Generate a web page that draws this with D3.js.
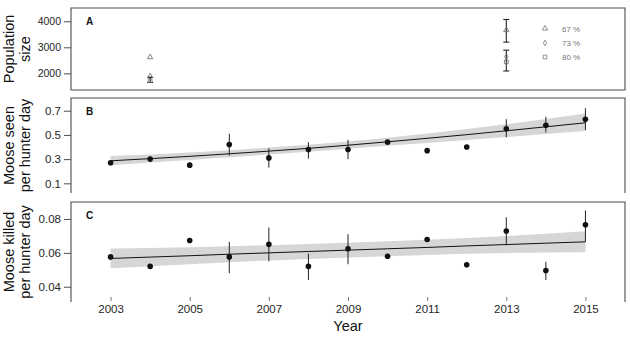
<!DOCTYPE html>
<html>
<head>
<meta charset="utf-8">
<script src="https://cdn.jsdelivr.net/npm/d3@7"></script>
<style>
  body { margin: 0; background: #fff; }
  svg { display: block; font-family: "Liberation Sans", Arial, sans-serif; }
</style>
</head>
<body>
<div id="chart"></div>
<script>
// Moose figure: A population estimates, B seen per hunter day, C killed per hunter day

const years = [2003, 2004, 2005, 2006, 2007, 2008, 2009, 2010, 2011, 2012, 2013, 2014, 2015];
const xTicks = [2003, 2005, 2007, 2009, 2011, 2013, 2015];

// ---- Panel A: population size -------------------------------------
const popYears = [2004, 2013];
const popLegend = ["67 %", "73 %", "80 %"];
const popTri = [2620, 3660];
const popTriLo = [null, 3200];
const popTriHi = [null, 4070];
const popDia = [1900, 2640];
const popDiaLo = [null, 2090];
const popDiaHi = [null, 2890];
const popSq = [1720, 2440];
const popSqLo = [1650, null];
const popSqHi = [1850, null];
const popTicks = [2000, 3000, 4000];

// ---- Panel B: moose seen per hunter day ---------------------------
const seen = [0.27, 0.30, 0.25, 0.42, 0.31, 0.38, 0.38, 0.44, 0.37, 0.40, 0.55, 0.58, 0.63];
const seenLo = [null, null, null, 0.33, 0.23, 0.305, 0.30, null, null, null, 0.48, 0.52, 0.54];
const seenHi = [null, null, null, 0.51, 0.39, 0.44, 0.46, null, null, null, 0.63, 0.65, 0.72];
const seenFit = [0.286, 0.304, 0.323, 0.344, 0.366, 0.389, 0.415, 0.443, 0.472, 0.502, 0.534, 0.567, 0.600];
const seenFitLo = [0.250, 0.271, 0.292, 0.315, 0.338, 0.361, 0.385, 0.410, 0.434, 0.458, 0.482, 0.507, 0.532];
const seenFitHi = [0.325, 0.338, 0.355, 0.374, 0.395, 0.418, 0.446, 0.477, 0.511, 0.548, 0.588, 0.631, 0.676];
const seenTicks = [0.1, 0.3, 0.5, 0.7];

// ---- Panel C: moose killed per hunter day -------------------------
const killed = [0.0576, 0.052, 0.0673, 0.0576, 0.065, 0.052, 0.0624, 0.058, 0.0679, 0.053, 0.0729, 0.0496, 0.0766];
const killedLo = [null, null, null, 0.048, 0.055, 0.044, 0.0533, null, null, null, 0.0645, 0.044, 0.0665];
const killedHi = [null, null, null, 0.0665, 0.075, 0.0596, 0.071, null, null, null, 0.081, 0.0547, 0.085];
const killedFit = [0.0567, 0.0575, 0.0583, 0.0592, 0.0600, 0.0608, 0.0616, 0.0624, 0.0632, 0.0641, 0.0649, 0.0657, 0.0665];
const killedFitLo = [0.0509, 0.0521, 0.0533, 0.0545, 0.0555, 0.0564, 0.0572, 0.0580, 0.0587, 0.0594, 0.0599, 0.0602, 0.0603];
const killedFitHi = [0.0625, 0.0629, 0.0633, 0.0639, 0.0645, 0.0652, 0.0660, 0.0668, 0.0677, 0.0688, 0.0699, 0.0712, 0.0727];
const killedTicks = [0.04, 0.06, 0.08];

const W = 630, H = 337;
const left = 71, right = 625;
const frameColor = "#4d4d4d";

const svg = d3.select("#chart").append("svg")
  .attr("width", W).attr("height", H);

const x = d3.scaleLinear().domain([2002, 2016]).range([left, right]);

// panel layout: top, bottom, y-domain
const panels = [
  { key: "A", top: 8, bottom: 90, domain: [1360, 4510], ticks: popTicks, fmt: d3.format("d"), label: ["Population", "size"], tickFont: 10.5 },
  { key: "B", top: 98, bottom: 193, domain: [0.02, 0.805], ticks: seenTicks, fmt: d3.format(".1f"), label: ["Moose seen", "per hunter day"], tickFont: 11.5 },
  { key: "C", top: 202, bottom: 302, domain: [0.031, 0.090], ticks: killedTicks, fmt: d3.format(".2f"), label: ["Moose killed", "per hunter day"], tickFont: 11.5 }
];

panels.forEach(p => {
  p.y = d3.scaleLinear().domain(p.domain).range([p.bottom, p.top]);
  p.g = svg.append("g");
});

// --------------------------------------------------------------
// frames, y axes, labels
// --------------------------------------------------------------
panels.forEach(p => {
  const axis = p.g.append("g")
    .attr("transform", `translate(${left},0)`)
    .call(d3.axisLeft(p.y).tickValues(p.ticks).tickFormat(p.fmt).tickSize(7).tickPadding(3));
  axis.select(".domain").remove();
  axis.selectAll("line").attr("stroke", frameColor);
  axis.selectAll("text")
    .attr("fill", "#262626")
    .style("font-size", p.tickFont + "px")
    .style("font-family", "'Liberation Sans', Arial, sans-serif");

  const midY = (p.top + p.bottom) / 2;
  const lab = p.g.append("text")
    .attr("transform", `translate(16,${midY}) rotate(-90)`)
    .attr("text-anchor", "middle")
    .attr("fill", "#111")
    .style("font-size", "14.5px");
  lab.append("tspan").attr("x", 0).attr("dy", "-0.15em").text(p.label[0]);
  lab.append("tspan").attr("x", 0).attr("dy", "1.15em").text(p.label[1]);

  p.g.append("text")
    .attr("x", 86).attr("y", p.top + 17)
    .attr("font-weight", "bold")
    .style("font-size", "10px")
    .attr("fill", "#111")
    .text(p.key);
});

// --------------------------------------------------------------
// Panel A: population estimates with caps
// --------------------------------------------------------------
const pA = panels[0];
const popGroups = [
  { vals: popTri, lo: popTriLo, hi: popTriHi, sym: d3.symbolTriangle, size: 12 },
  { vals: popDia, lo: popDiaLo, hi: popDiaHi, sym: d3.symbolDiamond, size: 9 },
  { vals: popSq, lo: popSqLo, hi: popSqHi, sym: d3.symbolSquare, size: 14 }
];

popGroups.forEach(s => {
  popYears.forEach((yr, i) => {
    if (s.lo[i] == null) return;
    const cx = x(yr);
    pA.g.append("line")
      .attr("x1", cx).attr("x2", cx)
      .attr("y1", pA.y(s.lo[i])).attr("y2", pA.y(s.hi[i]))
      .attr("stroke", "#111").attr("stroke-width", 1);
    [s.lo[i], s.hi[i]].forEach(v => {
      pA.g.append("line")
        .attr("x1", cx - 3).attr("x2", cx + 3)
        .attr("y1", pA.y(v)).attr("y2", pA.y(v))
        .attr("stroke", "#111").attr("stroke-width", 1);
    });
  });
  pA.g.selectAll(null)
    .data(popYears.map((yr, i) => [yr, s.vals[i]]))
    .join("path")
    .attr("transform", d => `translate(${x(d[0])},${pA.y(d[1])})`)
    .attr("d", d3.symbol(s.sym, s.size))
    .attr("fill", "none")
    .attr("stroke", "#666")
    .attr("stroke-width", 0.8);
});

// legend
const legY = [28.5, 43, 57];
popGroups.forEach((s, i) => {
  pA.g.append("path")
    .attr("transform", `translate(545,${legY[i]})`)
    .attr("d", d3.symbol(s.sym, s.size))
    .attr("fill", "none")
    .attr("stroke", "#777")
    .attr("stroke-width", 0.8);
  pA.g.append("text")
    .attr("x", 562).attr("y", legY[i] + 3)
    .attr("fill", "#777")
    .style("font-size", "8px")
    .text(popLegend[i]);
});

// --------------------------------------------------------------
// Panels B & C: ribbon, fit line, points, error bars
// --------------------------------------------------------------
function drawTrend(p, vals, lo, hi, fit, fitLo, fitHi) {
  const area = d3.area()
    .x((d, i) => x(years[i]))
    .y0((d, i) => p.y(fitLo[i]))
    .y1((d, i) => p.y(fitHi[i]));
  p.g.append("path")
    .datum(years)
    .attr("d", area)
    .attr("fill", "#d6d6d6");

  const line = d3.line()
    .x((d, i) => x(years[i]))
    .y((d, i) => p.y(fit[i]));
  p.g.append("path")
    .datum(years)
    .attr("d", line)
    .attr("fill", "none")
    .attr("stroke", "#111")
    .attr("stroke-width", 1);

  const rows = years.map((yr, i) => ({ yr, v: vals[i], lo: lo[i], hi: hi[i] }));

  p.g.selectAll(null)
    .data(rows.filter(d => d.lo != null))
    .join("line")
    .attr("x1", d => x(d.yr)).attr("x2", d => x(d.yr))
    .attr("y1", d => p.y(d.lo)).attr("y2", d => p.y(d.hi))
    .attr("stroke", "#222").attr("stroke-width", 1);

  p.g.selectAll(null)
    .data(rows)
    .join("circle")
    .attr("cx", d => x(d.yr))
    .attr("cy", d => p.y(d.v))
    .attr("r", 2.8)
    .attr("fill", "#111");
}

drawTrend(panels[1], seen, seenLo, seenHi, seenFit, seenFitLo, seenFitHi);
drawTrend(panels[2], killed, killedLo, killedHi, killedFit, killedFitLo, killedFitHi);

// frames (A fully boxed, B and C open at the bottom)
panels.forEach(p => {
  const f = p.g.append("path")
    .attr("fill", "none")
    .attr("stroke", frameColor)
    .attr("stroke-width", 1.1);
  if (p.key === "A") {
    f.attr("d", `M${left},${p.top}H${right}V${p.bottom}H${left}Z`);
  } else {
    f.attr("d", `M${left},${p.bottom}V${p.top}H${right}V${p.bottom}`);
  }
});

// --------------------------------------------------------------
// x axis under panel C
// --------------------------------------------------------------
const xAxis = svg.append("g")
  .attr("transform", "translate(0,297)")
  .call(d3.axisBottom(x).tickValues(xTicks).tickFormat(d3.format("d")).tickSize(4).tickPadding(4));
xAxis.select(".domain").remove();
xAxis.selectAll("line").attr("stroke", "#777");
xAxis.selectAll("text")
  .attr("fill", "#262626")
  .style("font-size", "11.5px")
  .style("font-family", "'Liberation Sans', Arial, sans-serif");

svg.append("text")
  .attr("x", (left + right) / 2)
  .attr("y", 331)
  .attr("text-anchor", "middle")
  .attr("fill", "#111")
  .style("font-size", "14.5px")
  .text("Year");
</script>
</body>
</html>
